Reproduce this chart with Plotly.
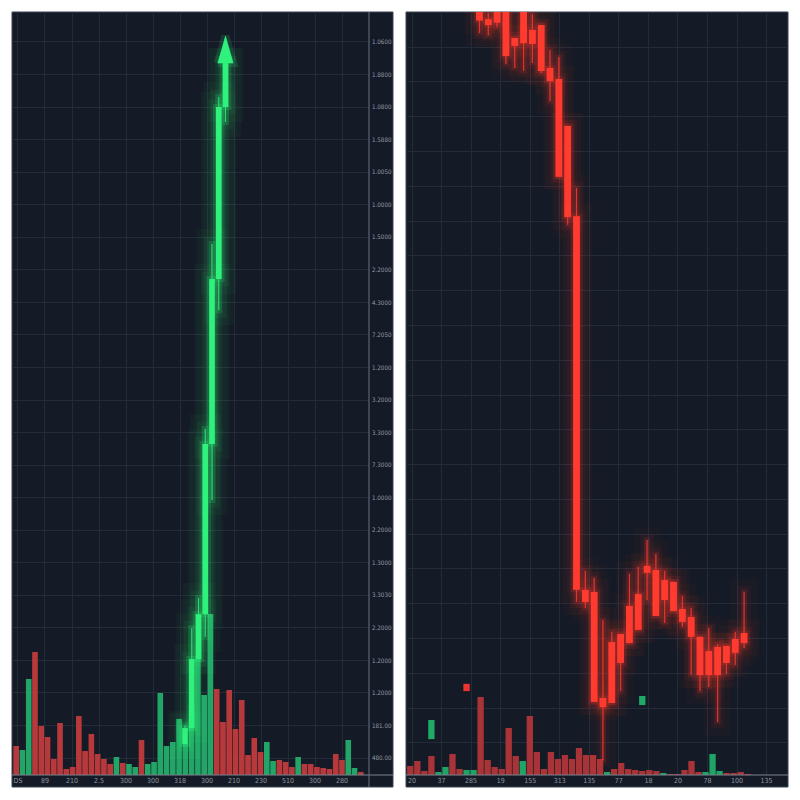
import plotly.graph_objects as go

# ---------------- data: left panel ----------------
L_XTICK_TEXT = ["DS", "89", "210", "2.5", "300", "300", "318", "300", "210", "230", "510", "300", "280"]
# y labels listed top -> bottom
L_YTICK_TEXT_TOP_DOWN = ["1.0600", "1.8800", "1.0800", "1.5880", "1.0050", "1.0000", "1.5000", "2.2000",
                         "4.3000", "7.2050", "1.2000", "3.2000", "3.3000", "7.3000", "1.0000", "2.2000",
                         "1.3000", "3.3030", "2.2000", "1.2000", "1.2000", "181.00", "480.00"]
L_YTICK_TEXT = L_YTICK_TEXT_TOP_DOWN[::-1]

L_VOL = [29, 25, 96, 123, 49, 38, 16, 52, 6, 8, 59, 24, 41, 21, 16, 11, 18, 12, 11, 8, 35, 11, 13, 82,
         29, 33, 56, 31, 70, 116, 80, 161, 86, 53, 85, 46, 75, 20, 37, 23, 33, 14, 15, 13, 8, 18, 11, 11,
         8, 7, 6, 21, 15, 35, 7, 3]
L_VOL_UP = [0, 1, 1, 0, 0, 0, 0, 0, 0, 0, 0, 0, 0, 0, 0, 0, 1, 0, 1, 1, 0, 1, 1, 1,
            1, 1, 1, 1, 1, 1, 1, 1, 0, 0, 0, 0, 0, 0, 0, 0, 1, 1, 0, 0, 0, 1, 0, 0,
            0, 0, 0, 0, 0, 1, 1, 0]

L_CX = [27, 28, 29, 30, 31, 32, 33]
L_OPEN = [0.43, 0.92, 3.04, 4.42, 9.65, 14.72, 20.00]
L_HIGH = [1.00, 3.99, 4.92, 10.11, 15.79, 20.31, 21.35]
L_LOW = [0.43, 0.92, 3.04, 3.72, 7.93, 13.76, 19.54]
L_CLOSE = [0.92, 3.04, 4.42, 9.65, 14.72, 20.00, 21.35]
L_ARROW_TIP = 22.18

# ---------------- data: right panel ----------------
R_XTICK_TEXT = ["20", "37", "285", "19", "155", "313", "135", "77", "18", "20", "78", "100", "135"]

R_VOL = [9, 14, 4, 19, 3, 8, 21, 6, 5, 5, 78, 15, 8, 6, 47, 19, 14, 59, 23, 6, 23, 16, 20, 16, 27,
         20, 20, 16, 3, 6, 12, 6, 5, 4, 5, 4, 2, 1, 1, 5, 14, 3, 3, 21, 4, 2, 2, 3, 1]
R_VOL_UP = [0, 0, 0, 0, 1, 1, 0, 0, 1, 1, 0, 0, 0, 0, 0, 0, 1, 0, 0, 0, 0, 0, 0, 0, 0,
            0, 0, 0, 1, 0, 0, 0, 0, 0, 0, 0, 1, 0, 0, 0, 0, 0, 1, 1, 1, 0, 0, 0, 0]

R_OPEN = [22.21, 21.80, 22.12, 22.21, 21.26, 22.21, 21.49, 21.63, 20.40, 20.08, 18.73, 16.14, 5.40, 5.34,
          2.29, 3.90, 4.13, 4.94, 5.28, 6.09, 5.97, 5.68, 5.63, 4.85, 4.62, 4.05, 3.64, 3.76, 3.79, 3.99, 4.16]
R_HIGH = [22.40, 21.98, 22.30, 22.40, 21.26, 22.40, 21.95, 21.63, 20.91, 20.71, 18.73, 16.95, 5.94, 5.74,
          4.53, 4.19, 4.13, 5.86, 6.06, 6.83, 6.43, 5.94, 5.63, 5.22, 4.88, 4.05, 4.30, 3.84, 3.79, 4.19, 5.34]
R_LOW = [21.40, 21.34, 21.57, 20.51, 20.40, 20.31, 20.54, 20.25, 19.45, 17.27, 15.89, 5.05, 4.88, 2.18,
         0.51, 2.15, 2.49, 3.87, 4.25, 5.11, 4.65, 4.45, 4.79, 4.33, 2.95, 2.49, 2.61, 1.60, 2.98, 3.24, 3.73]
R_CLOSE = [21.76, 21.63, 21.70, 20.74, 21.03, 21.11, 21.09, 20.31, 20.02, 17.27, 16.11, 5.40, 5.05, 2.18,
           2.03, 2.15, 3.30, 3.87, 4.25, 5.89, 4.65, 5.11, 4.79, 4.48, 4.05, 2.95, 2.95, 2.95, 3.30, 3.59, 3.87]

# stray single candles (sitting on volume slots)
R_STRAY_X = [3, 8, 33]
R_STRAY_LOW = [1.11, 2.49, 2.09]
R_STRAY_HIGH = [1.66, 2.70, 2.35]
R_STRAY_UP = [1, 0, 1]

# ---------------- styles ----------------
BG = "#141a26"
GRID = "#232b39"
AXLINE = "#7c828e"
FONT_FAMILY = "Liberation Sans Narrow, DejaVu Sans Condensed, DejaVu Sans, sans-serif"
XTICKFONT = dict(family=FONT_FAMILY, size=7, color="#8f95a0")
YTICKFONT = dict(family=FONT_FAMILY, size=6.2, color="#959ba6")
L_GREEN = "#2ef27c"
L_VOL_G, L_VOL_R = "#22a567", "#b8393c"
R_VOL_G, R_VOL_R = "#1fa465", "#a93438"

fig = go.Figure()

# invisible anchors so the labelled axes are drawn
fig.add_trace(go.Scatter(x=[0], y=[0], mode="markers", marker=dict(opacity=0), xaxis="x", yaxis="y",
                         hoverinfo="skip"))
fig.add_trace(go.Scatter(x=[0], y=[1], mode="markers", marker=dict(opacity=0), xaxis="x4", yaxis="y3",
                         hoverinfo="skip"))


def add_candles(x, o, h, l, c, rgb, body_w, wick_w, xa, ya, glows):
    bot = [min(a, b) for a, b in zip(o, c)]
    hgt = [max(abs(b - a), 0.02) for a, b in zip(o, c)]
    span = [hh - ll for hh, ll in zip(h, l)]
    r, g, b = rgb
    for lw, a in glows:
        col = f"rgba({r},{g},{b},{a})"
        fig.add_trace(go.Bar(x=x, base=l, y=span, width=wick_w, xaxis=xa, yaxis=ya, hoverinfo="skip",
                             marker=dict(color=col, line=dict(color=col, width=lw))))
        fig.add_trace(go.Bar(x=x, base=bot, y=hgt, width=body_w, xaxis=xa, yaxis=ya, hoverinfo="skip",
                             marker=dict(color=col, line=dict(color=col, width=lw))))
    fig.add_trace(go.Bar(x=x, base=l, y=span, width=wick_w, xaxis=xa, yaxis=ya, hoverinfo="skip",
                         marker=dict(color=f"rgba({r},{g},{b},0.75)", line=dict(width=0))))
    fig.add_trace(go.Bar(x=x, base=bot, y=hgt, width=body_w, xaxis=xa, yaxis=ya, hoverinfo="skip",
                         marker=dict(color=f"rgb({r},{g},{b})", line=dict(width=0))))


# left volume (subplot x2/y2)
fig.add_trace(go.Bar(x=list(range(len(L_VOL))), y=L_VOL, width=0.9,
                     marker=dict(color=[L_VOL_G if u else L_VOL_R for u in L_VOL_UP], line=dict(width=0)),
                     xaxis="x2", yaxis="y2", hoverinfo="skip"))

# left candles (subplot x3/y5) with glow
add_candles(L_CX, L_OPEN, L_HIGH, L_LOW, L_CLOSE, (46, 242, 124), 0.83, 0.16, "x3", "y5",
            [(30, 0.035), (15, 0.06), (6, 0.17)])

# arrow head on the last candle
cx = L_CX[-1]
base = L_CLOSE[-1]
hw = 1.14
ax_x = [cx - hw, cx, cx + hw, cx - hw]
ax_y = [base, L_ARROW_TIP, base, base]
fig.add_trace(go.Scatter(x=ax_x, y=ax_y, mode="lines", fill="toself", fillcolor="rgba(46,242,124,0.15)",
                         line=dict(color="rgba(46,242,124,0.15)", width=8), xaxis="x3", yaxis="y5",
                         hoverinfo="skip"))
fig.add_trace(go.Scatter(x=ax_x, y=ax_y, mode="lines", fill="toself", fillcolor=L_GREEN,
                         line=dict(color=L_GREEN, width=0.5), xaxis="x3", yaxis="y5",
                         hoverinfo="skip"))

# right volume (subplot x5/y4)
fig.add_trace(go.Bar(x=list(range(len(R_VOL))), y=R_VOL, width=0.9,
                     marker=dict(color=[R_VOL_G if u else R_VOL_R for u in R_VOL_UP], line=dict(width=0)),
                     xaxis="x5", yaxis="y4", hoverinfo="skip"))

# right stray candles (subplot x7/y6: volume slots, price scale)
fig.add_trace(go.Bar(x=R_STRAY_X, base=R_STRAY_LOW, width=0.9,
                     y=[h - l for h, l in zip(R_STRAY_HIGH, R_STRAY_LOW)],
                     marker=dict(color=["#1fa866" if u else "#ee3430" for u in R_STRAY_UP], line=dict(width=0)),
                     xaxis="x7", yaxis="y6", hoverinfo="skip"))

# right candles (subplot x6/y6) with glow
RX = list(range(len(R_OPEN)))
add_candles(RX, R_OPEN, R_HIGH, R_LOW, R_CLOSE, (255, 59, 47), 0.77, 0.14, "x6", "y6",
            [(26, 0.03), (12, 0.055), (5, 0.14)])

# page body has an 8px margin: figure is 784x784 placed at (8, 8)
FW = 784.0
OFF = 8.0


def px_x(p):
    return (p - OFF) / FW


def px_y(p):
    return (FW + OFF - p) / FW


LX0, LX1, LP1 = px_x(12), px_x(369), px_x(393)
RX0, RX1 = px_x(406), px_x(788)
Y0, Y1, YB = px_y(775), px_y(12), px_y(787)

L_PRICE_RANGE = [-0.52, 22.92]
R_PRICE_RANGE = [0.08, 22.006]
VOL_RANGE = [0, 763]


def hx(dom, rng, anchor):
    return dict(domain=dom, range=rng, anchor=anchor, visible=False, fixedrange=True,
                showgrid=False, zeroline=False)


fig.update_layout(
    width=int(FW), height=int(FW), margin=dict(l=0, r=0, t=0, b=0),
    paper_bgcolor="white", plot_bgcolor="rgba(0,0,0,0)", showlegend=False,
    barmode="overlay", hovermode=False,
    xaxis=dict(domain=[LX0, LX1], range=[-0.222, 13.0], tickvals=list(range(13)), ticktext=L_XTICK_TEXT,
               showgrid=True, gridcolor=GRID, gridwidth=1, zeroline=False, showline=False, ticks="",
               tickfont=XTICKFONT, anchor="y", fixedrange=True),
    yaxis=dict(domain=[Y0, Y1], range=L_PRICE_RANGE, tickvals=list(range(23)), ticktext=L_YTICK_TEXT,
               side="right", showgrid=True, gridcolor=GRID, zeroline=False, showline=False, ticks="",
               tickfont=YTICKFONT, anchor="x", fixedrange=True, ticklabelstandoff=2),
    xaxis2=hx([LX0, LX1], [-0.670, 56.31], "y2"),
    yaxis2=hx([Y0, Y1], VOL_RANGE, "x2"),
    xaxis3=hx([LX0, LX1], [1.37, 54.26], "y5"),
    yaxis5=hx([Y0, Y1], L_PRICE_RANGE, "x3"),
    xaxis4=dict(domain=[RX0, RX1], range=[-0.203, 12.724], tickvals=list(range(13)), ticktext=R_XTICK_TEXT,
                showgrid=True, gridcolor=GRID, zeroline=False, showline=False, ticks="",
                tickfont=XTICKFONT, anchor="y3", fixedrange=True),
    yaxis3=dict(domain=[Y0, Y1], range=R_PRICE_RANGE, tick0=0, dtick=1, showticklabels=False,
                showgrid=True, gridcolor=GRID, zeroline=False, showline=False, ticks="",
                anchor="x4", fixedrange=True),
    xaxis5=hx([RX0, RX1], [-0.612, 53.73], "y4"),
    yaxis4=hx([Y0, Y1], VOL_RANGE, "x5"),
    xaxis6=hx([RX0, RX1], [-8.33, 34.98], "y6"),
    yaxis6=hx([Y0, Y1], R_PRICE_RANGE, "x6"),
    xaxis7=hx([RX0, RX1], [-0.612, 53.73], "y6"),
    shapes=[
        dict(type="rect", xref="paper", yref="paper", x0=LX0, x1=LP1, y0=YB, y1=Y1,
             fillcolor=BG, line=dict(color="#3d4452", width=1), layer="below"),
        dict(type="rect", xref="paper", yref="paper", x0=RX0, x1=RX1, y0=YB, y1=Y1,
             fillcolor=BG, line=dict(color="#3d4452", width=1), layer="below"),
        dict(type="line", xref="paper", yref="paper", x0=LX0, x1=LP1, y0=Y0, y1=Y0,
             line=dict(color=AXLINE, width=1)),
        dict(type="line", xref="paper", yref="paper", x0=RX0, x1=RX1, y0=Y0, y1=Y0,
             line=dict(color=AXLINE, width=1)),
        dict(type="line", xref="paper", yref="paper", x0=LX1, x1=LX1, y0=YB, y1=Y1,
             line=dict(color="#6a707c", width=1)),
    ],
)

fig.write_html("out.html")
